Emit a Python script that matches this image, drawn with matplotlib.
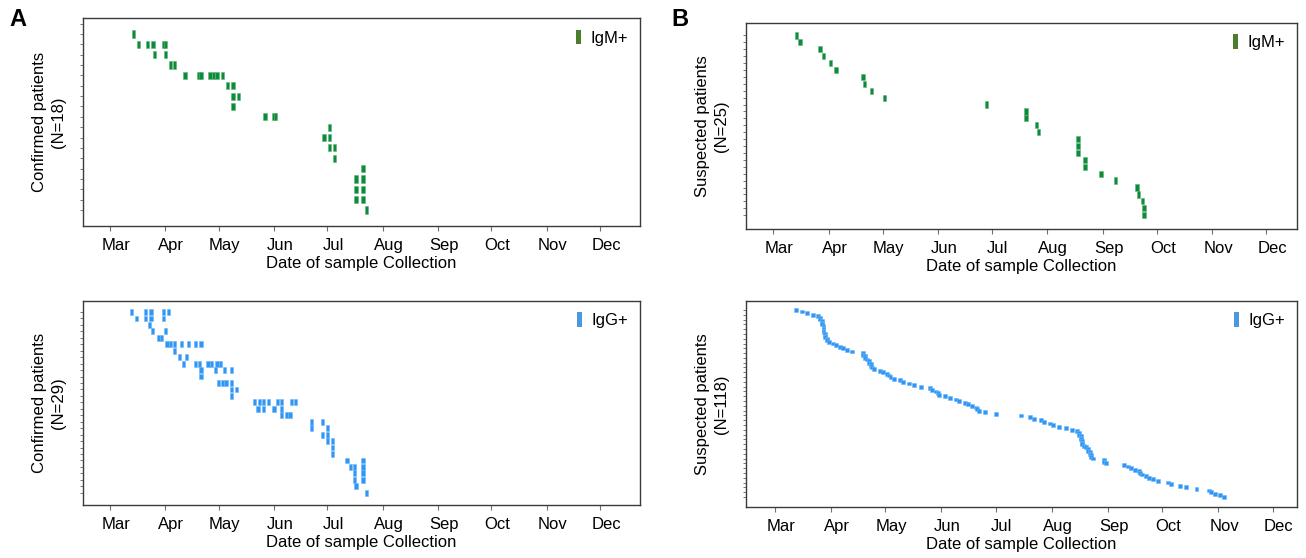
import datetime as dt
import numpy as np
import matplotlib
matplotlib.use("Agg")
import matplotlib.pyplot as plt
import matplotlib.dates as mdates
from matplotlib.patches import Patch
from matplotlib.transforms import ScaledTranslation

plt.rcParams['font.family'] = ['Liberation Sans', 'DejaVu Sans']

# ---------------- data (days after 1 March 2020, one list per patient) -------------
START = dt.datetime(2020, 3, 1)

igm_confirmed = [
    [13], [16, 21, 24, 30, 31], [25, 31], [34, 36],
    [42, 50, 51, 56, 58, 60, 63], [66, 69], [69, 72], [69],
    [87, 92, 93], [123], [120, 123], [123, 126], [126],
    [142], [138, 142], [138, 142], [138, 142], [144],
]

igg_confirmed = [
    [12, 20, 23, 30, 33], [15, 20, 23, 30], [22], [24, 31], [27, 29],
    [32, 34, 36, 40, 44, 48, 51], [36], [39, 43],
    [41, 48, 50, 55, 57, 60, 62], [51, 59, 64, 68], [51],
    [61, 63, 65, 68], [68, 71], [68],
    [81, 84, 86, 89, 94, 96, 102, 104], [83, 86, 92, 96], [96, 99, 101],
    [113, 119], [113, 122], [119, 122], [122, 125], [125], [125],
    [133, 142], [135, 137, 142], [137, 142], [137, 142], [138], [144],
]

igm_suspected = [13, 15, 26, 28, 32, 35, 50, 51, 55, 62, 119, 141, 141, 147,
                 148, 170, 170, 170, 174, 174, 183, 191, 203, 204, 206, 207, 207]

igg_suspected = [
    12, 15, 18, 21, 24, 25, 25, 26, 26, 26,
    27, 27, 27, 27, 27, 28, 28, 28, 29, 29,
    30, 32, 34, 36, 38, 40, 43, 49, 49, 50,
    50, 51, 52, 52, 53, 53, 54, 55, 58, 60,
    62, 63, 64, 66, 69, 71, 74, 77, 81, 86,
    87, 89, 90, 91, 94, 97, 100, 102, 105, 107,
    109, 111, 112, 113, 116, 122, 136, 141, 143, 147,
    149, 152, 154, 157, 161, 164, 167, 168, 168, 169,
    169, 169, 170, 170, 170, 171, 172, 173, 173, 174,
    174, 175, 175, 176, 182, 182, 183, 193, 195, 197,
    199, 201, 202, 203, 205, 207, 209, 212, 217, 219,
    224, 227, 233, 240, 241, 243, 246, 248,
]

ylabels = ["Confirmed patients\n(N=18)", "Confirmed patients\n(N=29)",
           "Suspected patients\n(N=25)", "Suspected patients\n(N=118)"]
legend_labels = ["IgM+", "IgG+"]
xlabel = "Date of sample Collection"

# ---------------- style ----------------
GREEN = '#0f8a3b'
GREEN_EDGE = '#5db57a'
GREEN_LEG = '#4c7d2d'
BLUE = '#2f96f5'
BLUE_EDGE = '#6fb6f7'
BLUE_LEG = '#4c98e0'
FS = 12

W, H = 1306, 558
fig = plt.figure(figsize=(W / 100, H / 100), dpi=100)
base = mdates.date2num(START)


def add_ax(l, r, t, b):
    return fig.add_axes([l / W, 1 - b / H, (r - l) / W, (b - t) / H])


def draw(ax, rows, color, edge, h, w, xlim, ylim, yticks, ylab, leg, legcol):
    xs, ys = [], []
    for i, days in enumerate(rows):
        for d in (days if isinstance(days, list) else [days]):
            xs.append(d)
            ys.append(i)
    xs = base + np.asarray(xs, float)
    ys = np.asarray(ys, float)
    ax.bar(xs, h, width=w, bottom=ys - h / 2, color=color, edgecolor=edge,
           linewidth=0.4, align='center', zorder=3)
    ax.set_xlim(base + xlim[0], base + xlim[1])
    ax.set_ylim(*ylim)
    ax.xaxis.set_major_locator(mdates.MonthLocator(bymonth=range(3, 13)))
    ax.xaxis.set_major_formatter(mdates.DateFormatter('%b'))
    ax.set_yticks(yticks)
    ax.set_yticklabels([])
    ax.tick_params(axis='x', direction='out', length=3.5, width=0.8,
                   color='#707070', labelsize=FS, pad=5)
    ax.tick_params(axis='y', direction='out', length=2.2, width=0.6,
                   color='#606060')
    for s in ax.spines.values():
        s.set_color('#3a3a3a')
        s.set_linewidth(1.0)
    ax.set_xlabel(xlabel, fontsize=FS, labelpad=2)
    ax.set_ylabel(ylab, fontsize=FS, linespacing=1.35)
    ax.yaxis.set_label_coords(-0.03, 0.5)
    off = ScaledTranslation(6 / 100, 0, fig.dpi_scale_trans)
    for lab in ax.get_xticklabels():
        lab.set_transform(lab.get_transform() + off)
    ax.legend(handles=[Patch(facecolor=legcol, edgecolor='none', label=leg)],
              loc='upper right', frameon=False, fontsize=FS,
              handlelength=0.3, handleheight=0.95, handletextpad=0.6,
              borderaxespad=0.3, borderpad=0.4)


axA1 = add_ax(83, 640, 18, 226)
draw(axA1, igm_confirmed, GREEN, GREEN_EDGE, 0.7, 1.9, (-15.2, 297.4),
     (18.55, -1.55), np.arange(-1, 18), ylabels[0], legend_labels[0], GREEN_LEG)

axA2 = add_ax(83, 640, 300.7, 505)
draw(axA2, igg_confirmed, BLUE, BLUE_EDGE, 0.9, 1.8, (-15.2, 297.4),
     (29.9, -1.75), np.arange(0, 29), ylabels[1], legend_labels[1], BLUE_LEG)

axB1 = add_ax(746, 1297, 22.7, 229)
draw(axB1, igm_suspected, GREEN, GREEN_EDGE, 0.9, 1.9, (-15.2, 292.3),
     (28.0, -1.84), np.arange(0, 27), ylabels[2], legend_labels[0], GREEN_LEG)

axB2 = add_ax(746, 1297, 300.7, 507)
draw(axB2, igg_suspected, BLUE, BLUE_EDGE, 2.4, 2.2, (-15.8, 288.5),
     (123.3, -5.8), np.arange(0, 118, 3), ylabels[3], legend_labels[1], BLUE_LEG)

fig.text(18 / W, 1 - 20 / H, 'A', fontsize=17, fontweight='bold', ha='center', va='center')
fig.text(680 / W, 1 - 20 / H, 'B', fontsize=17, fontweight='bold', ha='center', va='center')

fig.savefig('out.png', dpi=100)
